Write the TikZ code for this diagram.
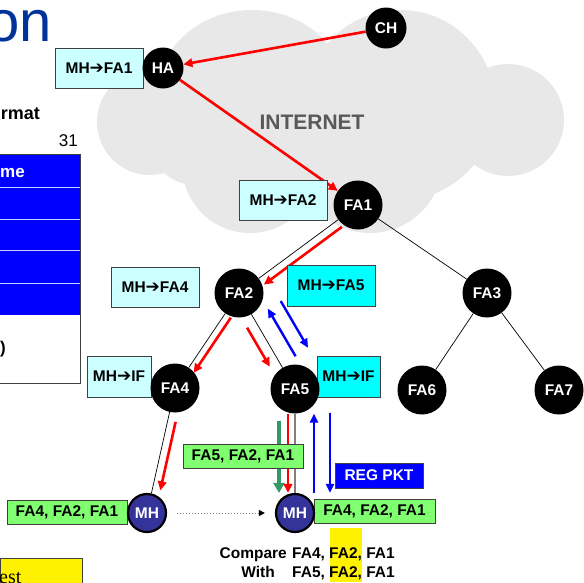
\documentclass[tikz,border=0pt]{standalone}
\usepackage{fontspec}
\setmainfont{Liberation Sans}
\newfontfamily\serifest{Liberation Serif}
\newfontfamily\symf{DejaVu Sans}
\usetikzlibrary{arrows.meta,calc}
\definecolor{lcyan}{HTML}{CCFFFF}
\definecolor{cyanb}{HTML}{00FFFF}
\definecolor{lgreen}{HTML}{80FF70}
\definecolor{mhblue}{HTML}{333399}
\definecolor{titleblue}{HTML}{003399}
\definecolor{cloudgray}{HTML}{E8E8E8}
\definecolor{netgray}{HTML}{595959}
\definecolor{boxedge}{HTML}{404040}
\definecolor{gteal}{HTML}{339966}
\definecolor{rowline}{HTML}{C8C8FF}
\newcommand\myarr{{\symf\fontsize{17}{18}\selectfont ➔}}
\pgfdeclarelayer{cloudlayer}
\pgfdeclarelayer{linelayer}
\pgfsetlayers{cloudlayer,linelayer,main}
\begin{document}
\begin{tikzpicture}[x=1pt,y=-1pt,
  bf/.style={font=\bfseries\fontsize{15.5}{18}\selectfont},
  fa/.style={circle, fill=black, text=white, bf, inner sep=0pt, minimum size=49pt},
  smallfa/.style={fa, minimum size=41pt},
  mh/.style={circle, fill=mhblue, draw=black, line width=2.2pt, text=white, bf, inner sep=0pt, minimum size=38pt},
  lbl/.style={draw=boxedge, line width=0.8pt, bf, inner sep=0pt, minimum height=40pt},
  gbox/.style={draw=boxedge, line width=0.8pt, fill=lgreen, bf, inner sep=0pt, minimum height=24pt},
  tree/.style={draw=black, line width=0.7pt},
  redarr/.style={draw=red, line width=2.6pt, -{Triangle[length=9pt,width=8.5pt]}},
  bluearr/.style={draw=blue, line width=2.4pt, -{Triangle[length=9pt,width=8pt]}},
  greenarr/.style={draw=gteal, line width=4.5pt, -{Triangle[length=10pt,width=11pt]}},
  plain/.style={inner sep=0pt}]
\useasboundingbox (0,0) rectangle (584,582);
\clip (0,0) rectangle (584,582);

% ---- cloud ----
\begin{pgfonlayer}{cloudlayer}
\fill[white] (0,0) rectangle (584,582);
\fill[cloudgray] (150,122) circle (53pt)
  (252,95) ellipse [x radius=95pt, y radius=85pt]
  (400,105) circle (95pt) (508,120) circle (56pt)
  (250,165) circle (68pt) (370,160) circle (73pt)
  (195,140) circle (45pt);
\end{pgfonlayer}
\node[font=\bfseries\fontsize{21}{24}\selectfont, text=netgray, plain] (net) at (312,122.5) {INTERNET};

% ---- left slide fragments ----
\node[anchor=base east, plain, text=titleblue, font=\fontsize{58}{60}\selectfont] (ttl) at (52,41) {on};
\node[anchor=base east, plain, font=\bfseries\fontsize{18}{20}\selectfont] (fmt) at (40,119) {rmat};
\node[anchor=base east, plain, font=\fontsize{17}{20}\selectfont] (n31) at (78,146) {31};
\fill[blue] (0,154) rectangle (80,315);
\foreach \yy in {187,219,250,283} \draw[rowline, line width=1pt] (0,\yy) -- (79.5,\yy);
\draw[boxedge, line width=0.8pt] (0,154) -- (80,154) -- (80,383) -- (0,383);
\node[anchor=base west, plain, text=white, font=\bfseries\fontsize{17}{20}\selectfont] (nme) at (0,177) {me};
\node[anchor=base west, plain, font=\bfseries\fontsize{17}{20}\selectfont] (par) at (0,353) {)};
\draw[boxedge, line width=0.8pt, fill=yellow] (0,558) rectangle (82,600);
\node[anchor=base west, plain, font=\serifest\fontsize{20}{22}\selectfont] (est) at (-1,583) {est};

% ---- nodes ----
\node[smallfa] (CH) at (386,28) {CH};
\node[lbl, fill=lcyan, minimum width=88pt] (b1) at (99,68) {MH\myarr FA1};
\node[smallfa] (HA) at (163,68) {HA};
\node[lbl, fill=lcyan, minimum width=88pt] (b2) at (283,200) {MH\myarr FA2};
\node[fa] (FA1) at (358,205) {FA1};
\node[fa] (FA2) at (239,293) {FA2};
\node[fa] (FA3) at (487,293) {FA3};
\node[lbl, fill=lcyan, minimum width=88pt] (b4) at (155,287) {MH\myarr FA4};
\node[lbl, fill=cyanb, minimum width=88pt, minimum height=41pt] (b5) at (331,285.5) {MH\myarr FA5};
\node[lbl, fill=lcyan, minimum width=64pt, minimum height=41pt] (bif1) at (119,376.5) {MH\myarr IF};
\node[fa] (FA4) at (175,388) {FA4};
\node[lbl, fill=cyanb, minimum width=63pt, minimum height=41pt] (bif2) at (348.5,376.5) {MH\myarr IF};
\node[fa] (FA5) at (295,389) {FA5};
\node[fa] (FA6) at (422,390) {FA6};
\node[fa] (FA7) at (559,390) {FA7};
\node[gbox, minimum width=120pt] (g1) at (243,456) {FA5, FA2, FA1};
\node[gbox, minimum width=120pt] (g2) at (67,512) {FA4, FA2, FA1};
\node[gbox, minimum width=121pt] (g3) at (374.5,511) {FA4, FA2, FA1};
\node[draw=boxedge, line width=0.8pt, fill=blue, text=white, bf, inner sep=0pt, minimum width=88pt, minimum height=25pt] (reg) at (379,475.5) {REG PKT};
\node[mh] (MHL) at (147,513) {MH};
\node[mh] (MHR) at (295,513) {MH};

% ---- compare text ----
\node[anchor=base east, plain, bf] (cmp) at (287,558) {Compare};
\node[anchor=base west, plain, bf] (cmp1) at (292,558) {FA4, FA2, FA1};
\node[anchor=base east, plain, bf] (wth) at (275,577) {With};
\node[anchor=base west, plain, bf] (cmp2) at (292,577) {FA5, FA2, FA1};

% ---- connectors ----
\begin{pgfonlayer}{linelayer}
\fill[yellow] (330,528) rectangle (362,582);
\draw[tree] (FA1) -- (FA2);
\draw[tree] (FA1) -- (FA3);
\draw[tree] (FA2) -- (FA4);
\draw[tree] (FA2) -- (FA5);
\draw[tree] (FA3) -- (FA6);
\draw[tree] (FA3) -- (FA7);
\draw[tree] (FA4) -- (MHL);
\draw[draw=gray, line width=2pt] (FA5) -- (MHR);
\draw[redarr] (CH) -- (HA);
\draw[redarr] (HA) -- (FA1);
\draw[redarr] ($(FA1)!26pt!(FA2)!8pt!90:(FA2)$) -- ($(FA2)!25pt!(FA1)!8pt!-90:(FA1)$);
\draw[redarr] ($(FA2)!25pt!(FA4)!7pt!90:(FA4)$) -- ($(FA4)!23pt!(FA2)!7pt!-90:(FA2)$);
\draw[redarr] ($(FA2)!34pt!(FA5)!10.5pt!-90:(FA5)$) -- ($(FA5)!32pt!(FA2)!10.5pt!90:(FA2)$);
\draw[bluearr] ($(FA5)!28pt!(FA2)!17pt!-90:(FA2)$) -- ($(FA2)!28pt!(FA5)!17pt!90:(FA5)$);
\draw[bluearr] ($(FA2)!28pt!(FA5)!32pt!90:(FA5)$) -- ($(FA5)!29pt!(FA2)!32pt!-90:(FA2)$);
\draw[redarr] ($(FA4)!33pt!(MHL)!8pt!90:(MHL)$) -- ($(MHL)!25pt!(FA4)!8pt!-90:(FA4)$);
\draw[greenarr] ([xshift=-16pt,yshift=-7pt]FA5.south) -- ([xshift=-16pt]MHR.north);
\draw[redarr] ([xshift=-7pt]FA5.south) -- ([xshift=-7pt]MHR.north);
\draw[bluearr] ([xshift=19pt]MHR.north) -- ([xshift=19pt]FA5.south);
\draw[bluearr] ([xshift=35pt,yshift=1pt]FA5.south) -- ([xshift=35pt]MHR.north);
\draw[draw=gray, dotted, line width=1pt, shorten <=10pt, shorten >=10pt, -{Triangle[length=6pt,width=6pt,color=black]}] (MHL) -- (MHR);
\end{pgfonlayer}
\end{tikzpicture}
\end{document}
